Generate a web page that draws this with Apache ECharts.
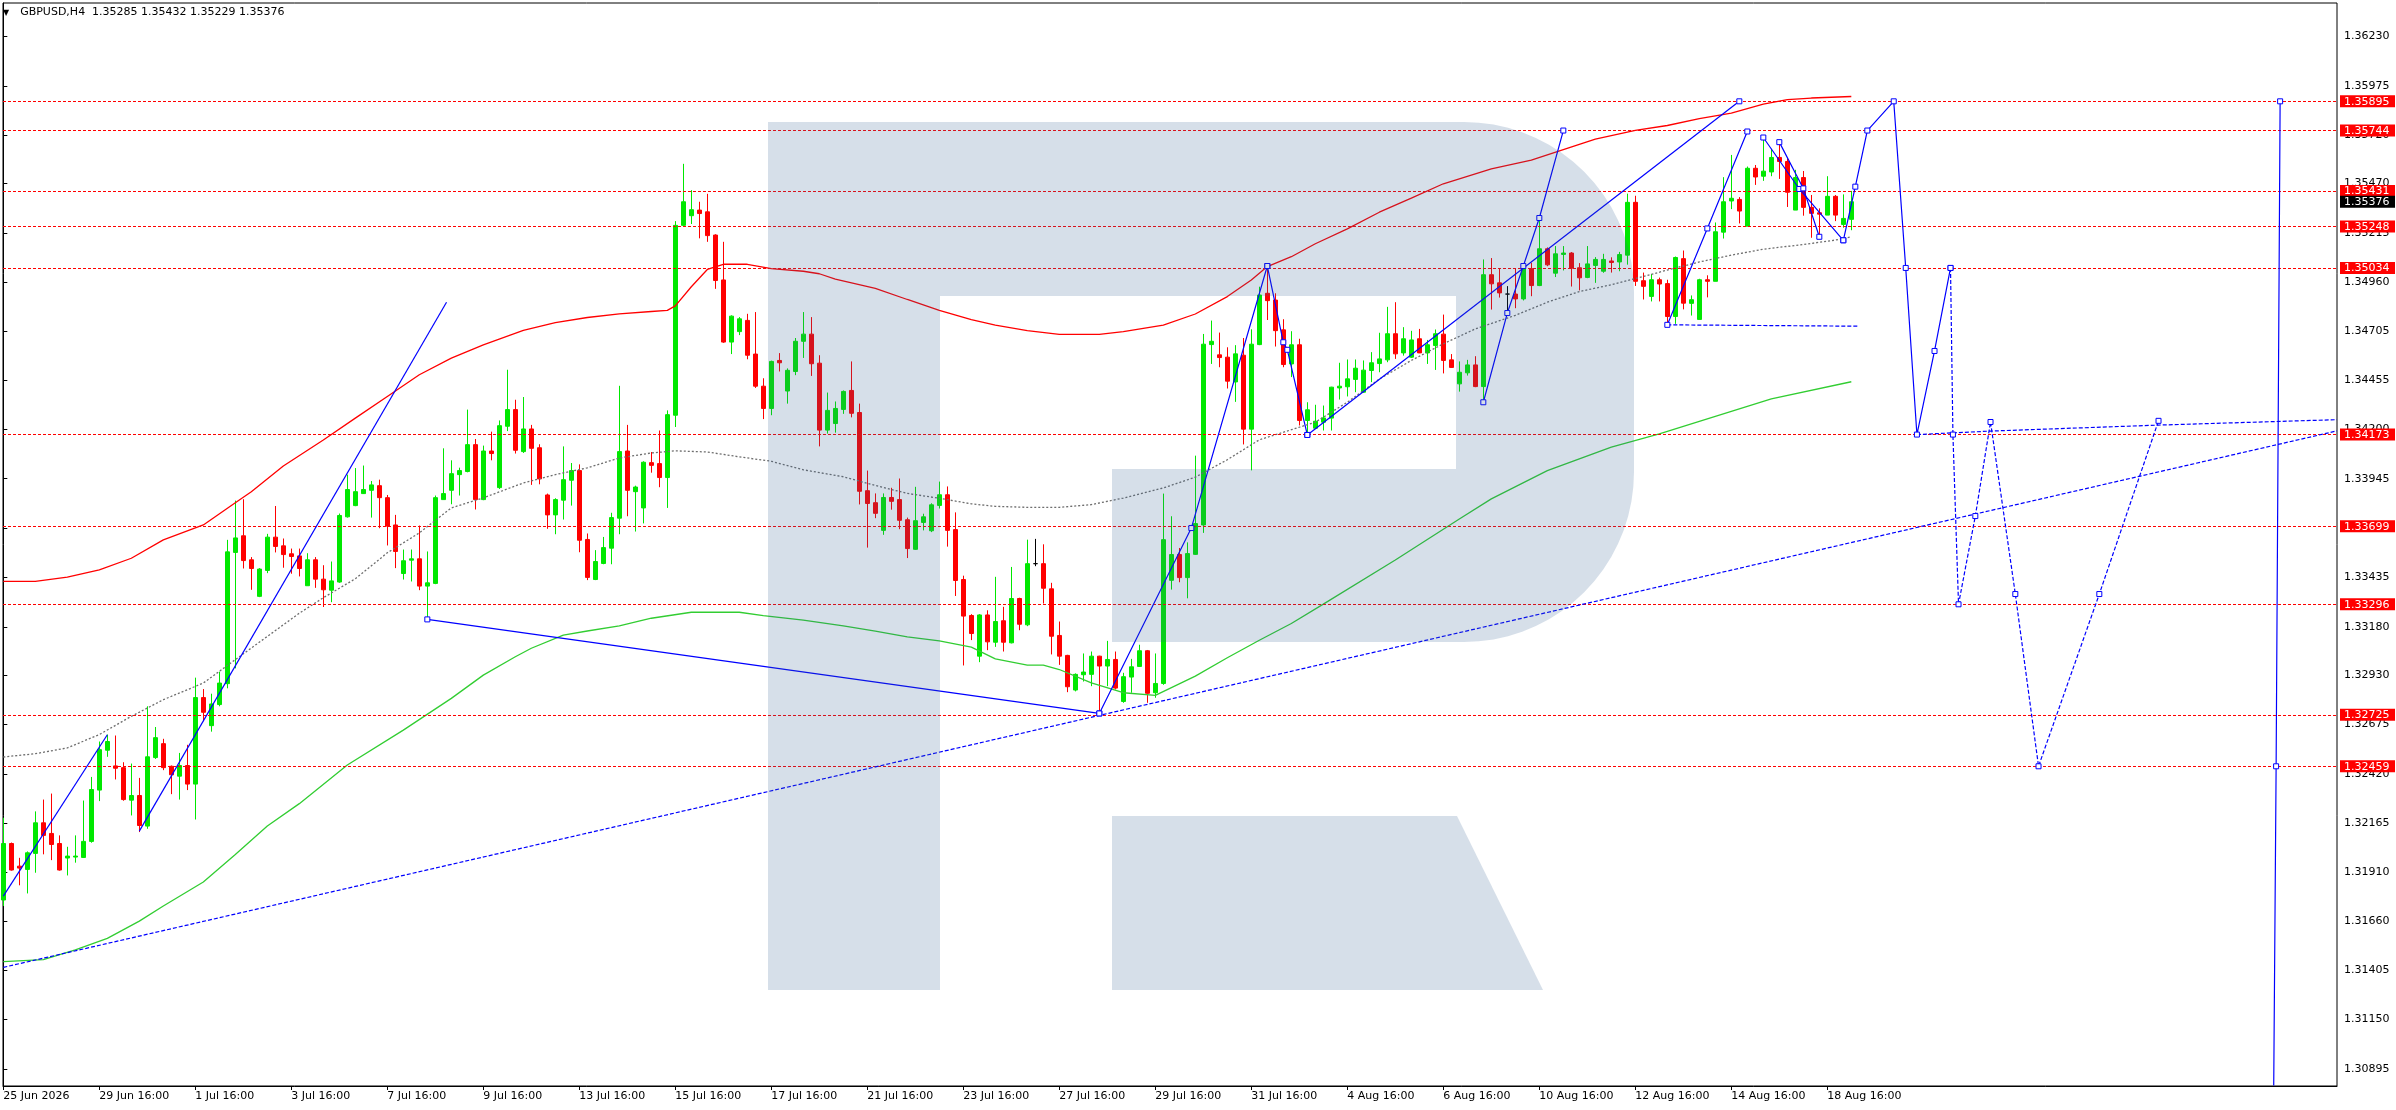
<!DOCTYPE html>
<html>
<head>
<meta charset="utf-8">
<title>GBPUSD,H4</title>
<script src="https://cdn.jsdelivr.net/npm/echarts@6/dist/echarts.min.js"></script>
<style>
  html, body { margin: 0; padding: 0; background: #fff; }
  #chart { width: 2396px; height: 1110px; }
</style>
</head>
<body>
<div id="chart"></div>
<script>
// H4 candles, bar index = position in the arrays (0 = 25 Jun 16:00)
const opens = [
  1.31768, 1.32060, 1.31943, 1.31926, 1.32009, 1.32167, 1.32112, 1.32060, 1.31985, 1.31990,
  1.31988, 1.32071, 1.32336, 1.32542, 1.32461, 1.32452, 1.32284, 1.32308, 1.32150, 1.32504,
  1.32576, 1.32459, 1.32408, 1.32463, 1.32367, 1.32814, 1.32669, 1.32778, 1.32886, 1.33564,
  1.33650, 1.33526, 1.33337, 1.33471, 1.33643, 1.33598, 1.33557, 1.33546, 1.33392, 1.33526,
  1.33426, 1.33369, 1.33411, 1.33748, 1.33806, 1.33868, 1.33885, 1.33909, 1.33847, 1.33706,
  1.33455, 1.33524, 1.33531, 1.33390, 1.33404, 1.33837, 1.33885, 1.33966, 1.33982, 1.34121,
  1.33837, 1.34088, 1.33899, 1.34216, 1.34302, 1.34085, 1.34202, 1.34105, 1.33861, 1.33758,
  1.33834, 1.33937, 1.33987, 1.33631, 1.33424, 1.33507, 1.33586, 1.33741, 1.34088, 1.33878,
  1.33794, 1.34028, 1.34023, 1.33951, 1.34273, 1.35254, 1.35304, 1.35333, 1.35324, 1.35204,
  1.34972, 1.34651, 1.34705, 1.34763, 1.34589, 1.34423, 1.34308, 1.34556, 1.34398, 1.34499,
  1.34655, 1.34692, 1.34542, 1.34196, 1.34230, 1.34303, 1.34401, 1.34287, 1.33883, 1.33821,
  1.33678, 1.33848, 1.33837, 1.33733, 1.33580, 1.33719, 1.33676, 1.33807, 1.33862, 1.33682,
  1.33424, 1.33238, 1.33028, 1.33241, 1.33100, 1.33211, 1.33097, 1.33326, 1.33190, 1.33506,
  1.33506, 1.33376, 1.33135, 1.33032, 1.32853, 1.32932, 1.32934, 1.33028, 1.32977, 1.33011,
  1.32794, 1.32920, 1.32975, 1.33056, 1.32839, 1.32887, 1.33420, 1.33553, 1.33434, 1.33554,
  1.33706, 1.34638, 1.34585, 1.34573, 1.34445, 1.34583, 1.34201, 1.34638, 1.34903, 1.34868,
  1.34714, 1.34538, 1.34637, 1.34246, 1.34206, 1.34237, 1.34258, 1.34414, 1.34420, 1.34458,
  1.34392, 1.34504, 1.34540, 1.34559, 1.34694, 1.34595, 1.34573, 1.34668, 1.34595, 1.34633,
  1.34692, 1.34559, 1.34435, 1.34492, 1.34533, 1.34421, 1.34999, 1.34957, 1.34899, 1.34899,
  1.34874, 1.35030, 1.34943, 1.35133, 1.35007, 1.35104, 1.35111, 1.35035, 1.34985, 1.35047,
  1.35017, 1.35070, 1.35065, 1.35100, 1.35373, 1.34968, 1.34887, 1.34973, 1.34953, 1.34783,
  1.35082, 1.34851, 1.34768, 1.34973, 1.34965, 1.35219, 1.35380, 1.35388, 1.35250, 1.35549,
  1.35508, 1.35530, 1.35605, 1.35584, 1.35333, 1.35501, 1.35347, 1.35319, 1.35307, 1.35404,
  1.35259, 1.35285
];
const highs = [
  1.32193, 1.32065, 1.31986, 1.32019, 1.32226, 1.32287, 1.32318, 1.32102, 1.32043, 1.32102,
  1.32282, 1.32404, 1.32587, 1.32623, 1.32618, 1.32480, 1.32473, 1.32399, 1.32769, 1.32662,
  1.32601, 1.32463, 1.32528, 1.32570, 1.32917, 1.32858, 1.32834, 1.32948, 1.33629, 1.33832,
  1.33839, 1.33540, 1.33483, 1.33660, 1.33804, 1.33636, 1.33584, 1.33584, 1.33560, 1.33540,
  1.33498, 1.33517, 1.33765, 1.33966, 1.34000, 1.34013, 1.33933, 1.33940, 1.33861, 1.33758,
  1.33579, 1.33579, 1.33703, 1.33569, 1.33858, 1.34102, 1.34040, 1.34002, 1.34302, 1.34150,
  1.34116, 1.34188, 1.34246, 1.34508, 1.34353, 1.34367, 1.34223, 1.34123, 1.33868, 1.33844,
  1.34112, 1.34026, 1.34019, 1.33662, 1.33576, 1.33644, 1.33769, 1.34425, 1.34223, 1.33909,
  1.34035, 1.34083, 1.34194, 1.34298, 1.35276, 1.35572, 1.35436, 1.35376, 1.35417, 1.35208,
  1.35169, 1.34789, 1.34780, 1.34797, 1.34806, 1.34464, 1.34555, 1.34594, 1.34515, 1.34672,
  1.34806, 1.34780, 1.34583, 1.34390, 1.34344, 1.34401, 1.34551, 1.34333, 1.33987, 1.33869,
  1.33869, 1.33898, 1.33946, 1.33744, 1.33903, 1.33764, 1.33818, 1.33930, 1.33905, 1.33771,
  1.33444, 1.33245, 1.33245, 1.33265, 1.33438, 1.33283, 1.33489, 1.33330, 1.33630, 1.33634,
  1.33606, 1.33407, 1.33207, 1.33035, 1.32939, 1.33042, 1.33052, 1.33030, 1.33107, 1.33052,
  1.32942, 1.33014, 1.33087, 1.33060, 1.33042, 1.33868, 1.33751, 1.33587, 1.33616, 1.34064,
  1.34693, 1.34762, 1.34700, 1.34624, 1.34635, 1.34672, 1.34717, 1.34937, 1.35041, 1.34903,
  1.34769, 1.34707, 1.34668, 1.34340, 1.34327, 1.34323, 1.34420, 1.34544, 1.34561, 1.34561,
  1.34556, 1.34599, 1.34699, 1.34833, 1.34857, 1.34728, 1.34709, 1.34719, 1.34662, 1.34716,
  1.34793, 1.34589, 1.34551, 1.34559, 1.34578, 1.35078, 1.35085, 1.35033, 1.34940, 1.35030,
  1.35055, 1.35061, 1.35297, 1.35140, 1.35147, 1.35147, 1.35116, 1.35059, 1.35147, 1.35090,
  1.35107, 1.35089, 1.35117, 1.35418, 1.35407, 1.35010, 1.35003, 1.34984, 1.34973, 1.35093,
  1.35124, 1.34892, 1.34978, 1.34996, 1.35269, 1.35503, 1.35618, 1.35400, 1.35558, 1.35566,
  1.35708, 1.35649, 1.35674, 1.35601, 1.35541, 1.35535, 1.35411, 1.35342, 1.35508, 1.35411,
  1.35414, 1.35432
];
const lows = [
  1.31737, 1.31920, 1.31844, 1.31802, 1.31909, 1.32004, 1.31974, 1.31920, 1.31895, 1.31961,
  1.31985, 1.32064, 1.32279, 1.32508, 1.32391, 1.32281, 1.32205, 1.32119, 1.32136, 1.32497,
  1.32439, 1.32315, 1.32287, 1.32336, 1.32184, 1.32692, 1.32638, 1.32769, 1.32862, 1.32965,
  1.33481, 1.33371, 1.33333, 1.33457, 1.33564, 1.33485, 1.33454, 1.33440, 1.33392, 1.33381,
  1.33282, 1.33307, 1.33407, 1.33744, 1.33803, 1.33866, 1.33744, 1.33689, 1.33600, 1.33483,
  1.33424, 1.33414, 1.33369, 1.33218, 1.33400, 1.33837, 1.33813, 1.33858, 1.33978, 1.33786,
  1.33834, 1.34040, 1.33892, 1.34191, 1.34075, 1.34078, 1.33913, 1.33916, 1.33686, 1.33658,
  1.33734, 1.33806, 1.33565, 1.33421, 1.33421, 1.33503, 1.33503, 1.33658, 1.33751, 1.33672,
  1.33714, 1.33976, 1.33901, 1.33794, 1.34212, 1.35251, 1.35261, 1.35187, 1.35169, 1.34926,
  1.34647, 1.34589, 1.34687, 1.34562, 1.34414, 1.34253, 1.34273, 1.34499, 1.34333, 1.34480,
  1.34569, 1.34476, 1.34112, 1.34178, 1.34183, 1.34280, 1.34262, 1.33812, 1.33589, 1.33741,
  1.33655, 1.33785, 1.33684, 1.33535, 1.33577, 1.33678, 1.33669, 1.33791, 1.33594, 1.33339,
  1.32980, 1.33111, 1.32997, 1.33059, 1.33076, 1.33052, 1.33094, 1.33162, 1.33183, 1.33493,
  1.33300, 1.33037, 1.32983, 1.32842, 1.32846, 1.32897, 1.32873, 1.32732, 1.32873, 1.32856,
  1.32787, 1.32839, 1.32973, 1.32787, 1.32813, 1.32880, 1.33372, 1.33410, 1.33327, 1.33551,
  1.33665, 1.34538, 1.34521, 1.34411, 1.34342, 1.34122, 1.33988, 1.34635, 1.34765, 1.34628,
  1.34521, 1.34470, 1.34220, 1.34171, 1.34202, 1.34194, 1.34194, 1.34354, 1.34370, 1.34392,
  1.34389, 1.34444, 1.34495, 1.34547, 1.34564, 1.34581, 1.34569, 1.34594, 1.34538, 1.34507,
  1.34489, 1.34518, 1.34395, 1.34478, 1.34418, 1.34340, 1.34819, 1.34881, 1.34802, 1.34826,
  1.34866, 1.34888, 1.34940, 1.35043, 1.34987, 1.35021, 1.34938, 1.34918, 1.34981, 1.34957,
  1.35009, 1.35010, 1.35017, 1.35051, 1.34941, 1.34871, 1.34861, 1.34861, 1.34740, 1.34745,
  1.34820, 1.34788, 1.34768, 1.34882, 1.34965, 1.35186, 1.35338, 1.35264, 1.35250, 1.35463,
  1.35484, 1.35508, 1.35494, 1.35349, 1.35333, 1.35304, 1.35190, 1.35195, 1.35307, 1.35276,
  1.35242, 1.35229
];
const closes = [
  1.32060, 1.31923, 1.31933, 1.32012, 1.32167, 1.32102, 1.32055, 1.31923, 1.31995, 1.31995,
  1.32071, 1.32339, 1.32545, 1.32587, 1.32449, 1.32287, 1.32308, 1.32153, 1.32508, 1.32607,
  1.32452, 1.32415, 1.32463, 1.32367, 1.32814, 1.32738, 1.32781, 1.32889, 1.33567, 1.33639,
  1.33522, 1.33481, 1.33478, 1.33643, 1.33595, 1.33553, 1.33543, 1.33481, 1.33526, 1.33426,
  1.33371, 1.33417, 1.33755, 1.33889, 1.33878, 1.33889, 1.33913, 1.33847, 1.33700, 1.33569,
  1.33521, 1.33531, 1.33390, 1.33407, 1.33847, 1.33868, 1.33971, 1.33987, 1.34121, 1.33837,
  1.34088, 1.34075, 1.34219, 1.34302, 1.34092, 1.34202, 1.34102, 1.33944, 1.33758, 1.33837,
  1.33940, 1.33987, 1.33627, 1.33435, 1.33517, 1.33589, 1.33744, 1.34085, 1.33885, 1.33902,
  1.34030, 1.34014, 1.33951, 1.34276, 1.35254, 1.35376, 1.35335, 1.35315, 1.35201, 1.34969,
  1.34651, 1.34785, 1.34771, 1.34583, 1.34423, 1.34308, 1.34551, 1.34544, 1.34505, 1.34655,
  1.34692, 1.34539, 1.34196, 1.34298, 1.34308, 1.34396, 1.34283, 1.33880, 1.33817, 1.33766,
  1.33848, 1.33828, 1.33730, 1.33584, 1.33728, 1.33748, 1.33810, 1.33862, 1.33678, 1.33419,
  1.33235, 1.33145, 1.33241, 1.33102, 1.33207, 1.33100, 1.33326, 1.33193, 1.33506, 1.33506,
  1.33379, 1.33131, 1.33028, 1.32870, 1.32934, 1.32946, 1.33028, 1.32977, 1.33011, 1.32863,
  1.32922, 1.32973, 1.33056, 1.32836, 1.32887, 1.33630, 1.33553, 1.33434, 1.33558, 1.33713,
  1.34640, 1.34655, 1.34571, 1.34449, 1.34590, 1.34201, 1.34640, 1.34894, 1.34865, 1.34710,
  1.34535, 1.34637, 1.34246, 1.34301, 1.34242, 1.34259, 1.34418, 1.34423, 1.34461, 1.34516,
  1.34506, 1.34544, 1.34564, 1.34694, 1.34590, 1.34668, 1.34662, 1.34595, 1.34637, 1.34694,
  1.34556, 1.34520, 1.34495, 1.34533, 1.34421, 1.34999, 1.34952, 1.34905, 1.34899, 1.34874,
  1.35030, 1.34943, 1.35133, 1.35050, 1.35107, 1.35111, 1.35033, 1.34983, 1.35055, 1.35078,
  1.35078, 1.35062, 1.35103, 1.35373, 1.34965, 1.34939, 1.34973, 1.34951, 1.34783, 1.35088,
  1.34852, 1.34870, 1.34973, 1.34965, 1.35221, 1.35376, 1.35394, 1.35328, 1.35549, 1.35504,
  1.35534, 1.35605, 1.35584, 1.35425, 1.35501, 1.35347, 1.35316, 1.35312, 1.35404, 1.35307,
  1.35290, 1.35376
];

// indicator lines, read at sampled bars: [bar, price]
const upperBand = [
  [0, 1.33414], [4, 1.33414], [8, 1.33436], [12, 1.33474], [16, 1.33534], [20, 1.33629],
  [25, 1.33706], [29, 1.33821], [31, 1.33878], [35, 1.34011], [40, 1.34145], [44, 1.34258],
  [48, 1.34370], [52, 1.34482], [56, 1.34568], [60, 1.34637], [65, 1.34711], [69, 1.34752],
  [73, 1.34778], [77, 1.34797], [81, 1.34809], [83, 1.34815], [84, 1.34838], [86, 1.34937],
  [88, 1.35026], [90, 1.35053], [93, 1.35053], [96, 1.35031], [100, 1.35017], [102, 1.35004],
  [104, 1.34976], [109, 1.34928], [113, 1.34871], [117, 1.34815], [121, 1.34767], [124, 1.34739],
  [128, 1.34710], [132, 1.34691], [137, 1.34691], [140, 1.34705], [145, 1.34739], [149, 1.34796],
  [153, 1.34886], [156, 1.34972], [158, 1.35041], [161, 1.35092], [164, 1.35159], [168, 1.35236],
  [172, 1.35322], [176, 1.35395], [180, 1.35469], [186, 1.35546], [191, 1.35591], [199, 1.35700],
  [204, 1.35745], [208, 1.35770], [212, 1.35806], [216, 1.35834], [220, 1.35881], [223, 1.35904],
  [226, 1.35912], [231, 1.35920]
];
const middleBand = [
  [0, 1.32507], [4, 1.32524], [8, 1.32554], [12, 1.32623], [16, 1.32717], [20, 1.32803],
  [25, 1.32889], [29, 1.33010], [33, 1.33130], [37, 1.33250], [40, 1.33330], [44, 1.33428],
  [48, 1.33562], [52, 1.33665], [56, 1.33794], [60, 1.33846], [65, 1.33923], [69, 1.33966],
  [73, 1.34001], [77, 1.34052], [81, 1.34078], [84, 1.34089], [88, 1.34083], [92, 1.34058],
  [96, 1.34035], [100, 1.33991], [105, 1.33955], [109, 1.33910], [113, 1.33869], [117, 1.33844],
  [121, 1.33815], [124, 1.33802], [128, 1.33797], [132, 1.33797], [136, 1.33811], [140, 1.33845],
  [145, 1.33897], [149, 1.33953], [153, 1.34043], [157, 1.34146], [161, 1.34198], [164, 1.34237],
  [168, 1.34340], [172, 1.34460], [176, 1.34556], [180, 1.34642], [184, 1.34719], [189, 1.34789],
  [193, 1.34857], [197, 1.34912], [201, 1.34947], [204, 1.34979], [208, 1.35023], [212, 1.35065],
  [216, 1.35100], [220, 1.35131], [225, 1.35155], [229, 1.35178], [231, 1.35195]
];
const lowerBand = [
  [0, 1.31450], [5, 1.31460], [9, 1.31510], [13, 1.31570], [17, 1.31659], [20, 1.31737],
  [25, 1.31861], [29, 1.32003], [33, 1.32150], [37, 1.32266], [43, 1.32466], [50, 1.32646],
  [56, 1.32810], [60, 1.32930], [64, 1.33025], [66, 1.33069], [70, 1.33137], [73, 1.33158],
  [77, 1.33184], [81, 1.33224], [86, 1.33255], [92, 1.33255], [95, 1.33237], [100, 1.33214],
  [105, 1.33184], [109, 1.33157], [113, 1.33128], [117, 1.33107], [121, 1.33075], [124, 1.33014],
  [128, 1.32982], [130, 1.32982], [132, 1.32959], [136, 1.32890], [140, 1.32839], [144, 1.32825],
  [149, 1.32925], [153, 1.33020], [157, 1.33110], [161, 1.33197], [165, 1.33297], [174, 1.33525],
  [182, 1.33737], [186, 1.33841], [193, 1.33987], [201, 1.34108], [207, 1.34176], [221, 1.34357],
  [231, 1.34446]
];

// trend lines and wave paths (blue), [bar, price]
const trendPlain1 = [[0, 1.31788], [13, 1.32622]];
const trendPlain2 = [[17, 1.32124], [55.4, 1.34857]];
const waveB = [[53, 1.33218], [137, 1.32732]];
const waveC = [[137, 1.32732], [148.5, 1.33690], [158, 1.35044]];
const waveC2 = [[158, 1.35044], [160, 1.34650], [160.5, 1.34611], [163, 1.34171]];
const waveD = [[163, 1.34171], [217, 1.35895]];
const waveS = [[185, 1.34340], [188, 1.34801], [190, 1.35044], [192, 1.35292], [195, 1.35744]];
const waveE = [[208, 1.34740], [213, 1.35238], [218, 1.35739]];
const waveF1 = [[220, 1.35708], [224.5, 1.35442], [230, 1.35177]];
const waveF2 = [[222, 1.35684], [225, 1.35445], [227, 1.35195]];
const forecastSolid = [
  [230, 1.35177], [231.5, 1.35454], [233, 1.35744], [236.3, 1.35895], [237.8, 1.35034],
  [239.2, 1.34173], [241.4, 1.34605], [243.4, 1.35034]
];
const forecastDashed = [
  [243.4, 1.35034], [243.7, 1.34173], [244.4, 1.33296], [246.5, 1.33752], [248.4, 1.34238],
  [251.5, 1.33349], [254.4, 1.32459], [262, 1.33349], [269.4, 1.34244]
];
const flatDashed = [[239.2, 1.34173], [248.4, 1.34191], [269.4, 1.34222], [291.7, 1.34250]];
const longDashed = [[0, 1.31420], [291.7, 1.34192]];
const shortDashed = [[208, 1.34740], [232, 1.34733]];
const verticalLine = [[284.6, 1.35895], [284.1, 1.32459], [283.8, 1.30810]];

// horizontal levels and price axis
const levels = [1.35895, 1.35744, 1.35431, 1.35248, 1.35034, 1.34173, 1.33699, 1.33296, 1.32725, 1.32459];
const lastPrice = 1.35376;
const yTicks = [
  1.36230, 1.35975, 1.35720, 1.35470, 1.35215, 1.34960, 1.34705, 1.34455, 1.34200, 1.33945, 1.33690,
  1.33435, 1.33180, 1.32930, 1.32675, 1.32420, 1.32165, 1.31910, 1.31660, 1.31405, 1.31150, 1.30895
];
const xTickBars = [0, 12, 24, 36, 48, 60, 72, 84, 96, 108, 120, 132, 144, 156, 168, 180, 192, 204, 216, 228];
const xTickLabels = [
  '25 Jun 2026', '29 Jun 16:00', '1 Jul 16:00', '3 Jul 16:00', '7 Jul 16:00', '9 Jul 16:00',
  '13 Jul 16:00', '15 Jul 16:00', '17 Jul 16:00', '21 Jul 16:00', '23 Jul 16:00', '27 Jul 16:00',
  '29 Jul 16:00', '31 Jul 16:00', '4 Aug 16:00', '6 Aug 16:00', '10 Aug 16:00', '12 Aug 16:00',
  '14 Aug 16:00', '18 Aug 16:00'
];

const FONT = 'DejaVu Sans';
const BLUE = '#0000ff';

// watermark "R" drawn over the plot, in pixels
function watermarkBowl() {
  const pts = [[768, 122], [1464, 122]];
  for (let a = -90; a <= 0; a += 5) {
    const r = a * Math.PI / 180;
    pts.push([1464 + 170 * Math.cos(r), 292 + 170 * Math.sin(r)]);
  }
  for (let a = 0; a <= 90; a += 5) {
    const r = a * Math.PI / 180;
    pts.push([1464 + 170 * Math.cos(r), 472 + 170 * Math.sin(r)]);
  }
  pts.push([1112, 642], [1112, 469], [1456, 469], [1456, 296], [940, 296], [940, 990], [768, 990]);
  return pts;
}

function blueLine(points, opts) {
  opts = opts || {};
  return {
    type: 'line',
    data: points,
    showSymbol: !!opts.markers,
    symbol: 'rect',
    symbolSize: 5,
    itemStyle: { color: '#fff', borderColor: BLUE, borderWidth: 1 },
    lineStyle: { color: BLUE, width: 1.2, type: opts.dashed ? [4, 2] : 'solid' },
    z: 5,
    silent: true,
    animation: false
  };
}

function bandLine(points, color, type) {
  return {
    type: 'line',
    data: points,
    showSymbol: false,
    lineStyle: { color: color, width: 1.3, type: type || 'solid' },
    z: 3,
    silent: true,
    animation: false
  };
}

const chart = echarts.init(document.getElementById('chart'));

const candleData = opens.map((o, i) => [i, o, closes[i], lows[i], highs[i]]);
const vertData = verticalLine.map((p, i) => i === verticalLine.length - 1 ? { value: p, symbol: 'none' } : p);

const yMin = 1.30807;
const yMax = 1.36403;

// the red horizontal levels ride on the upper band series as markLines
const upperSeries = bandLine(upperBand, '#ff0000');
upperSeries.markLine = {
  silent: true,
  animation: false,
  precision: 5,
  symbol: ['none', 'none'],
  label: { show: false },
  lineStyle: { color: '#ff0000', width: 1.2, type: [3, 2] },
  data: levels.map(v => ({ yAxis: v }))
};

const option = {
  animation: false,
  backgroundColor: '#fff',
  title: {
    text: '{tri|▼}GBPUSD,H4  1.35285 1.35432 1.35229 1.35376',
    left: 3,
    top: 7,
    padding: 0,
    textStyle: {
      fontSize: 11, fontWeight: 'normal', fontFamily: FONT, color: '#000',
      rich: { tri: { fontSize: 8, fontFamily: FONT, color: '#000', padding: [0, 11, 0, 0] } }
    }
  },
  grid: {
    left: 3, right: 59, top: 3, bottom: 24,
    show: true, borderColor: '#000', borderWidth: 1, backgroundColor: 'transparent',
    outerBoundsMode: 'none'
  },
  xAxis: {
    type: 'value',
    min: -0.04,
    max: 291.71,
    splitLine: { show: false },
    axisLine: { show: true, lineStyle: { color: '#000', width: 1 } },
    axisTick: { show: true, length: 4, customValues: xTickBars, lineStyle: { color: '#000' } },
    axisLabel: {
      customValues: xTickBars,
      formatter: v => xTickLabels[xTickBars.indexOf(Math.round(v))] || '',
      align: 'left',
      margin: 5,
      color: '#000',
      fontSize: 11,
      fontFamily: FONT
    }
  },
  yAxis: [
    {
      type: 'value',
      position: 'right',
      min: yMin,
      max: yMax,
      scale: true,
      splitLine: { show: false },
      axisLine: { show: true, lineStyle: { color: '#000', width: 1 } },
      axisTick: { show: true, length: 4, customValues: yTicks, lineStyle: { color: '#000' } },
      axisLabel: {
        customValues: yTicks,
        formatter: v => v.toFixed(5),
        margin: 7,
        color: '#000',
        fontSize: 11,
        fontFamily: FONT
      }
    },
    {
      type: 'value',
      position: 'right',
      min: yMin,
      max: yMax,
      scale: true,
      splitLine: { show: false },
      axisLine: { show: false },
      axisTick: { show: false },
      axisLabel: {
        customValues: levels.concat([lastPrice]),
        formatter: v => (Math.abs(v - lastPrice) < 1e-7 ? '{cur|' : '{lvl|') + v.toFixed(5) + '}',
        margin: 3,
        rich: {
          lvl: {
            backgroundColor: '#ff0000', color: '#fff', fontSize: 11, fontFamily: FONT,
            width: 47, height: 11, lineHeight: 11, padding: [1, 4, 0, 4]
          },
          cur: {
            backgroundColor: '#000', color: '#fff', fontSize: 11, fontFamily: FONT,
            width: 47, height: 11, lineHeight: 11, padding: [1, 4, 0, 4]
          }
        }
      }
    }
  ],
  graphic: [
    {
      type: 'polygon', z: 100, silent: true,
      shape: { points: watermarkBowl() },
      style: { fill: 'rgba(50, 95, 145, 0.2)' }
    },
    {
      type: 'polygon', z: 100, silent: true,
      shape: { points: [[1112, 816], [1457, 816], [1543, 990], [1112, 990]] },
      style: { fill: 'rgba(50, 95, 145, 0.2)' }
    }
  ],
  series: [
    {
      type: 'candlestick',
      data: candleData,
      barWidth: 4,
      silent: true,
      z: 2,
      itemStyle: {
        color: '#00e800', borderColor: '#00e800',
        color0: '#ff0000', borderColor0: '#ff0000',
        borderColorDoji: '#000', borderWidth: 1
      }
    },
    upperSeries,
    bandLine(middleBand, '#6e6e6e', [2, 2]),
    bandLine(lowerBand, '#32cd32'),
    blueLine(trendPlain1),
    blueLine(trendPlain2),
    blueLine(waveB, { markers: true }),
    blueLine(waveC, { markers: true }),
    blueLine(waveC2, { markers: true }),
    blueLine(waveD, { markers: true }),
    blueLine(waveS, { markers: true }),
    blueLine(waveE, { markers: true }),
    blueLine(waveF1, { markers: true }),
    blueLine(waveF2, { markers: true }),
    blueLine(forecastSolid, { markers: true }),
    blueLine(forecastDashed, { markers: true, dashed: true }),
    blueLine(flatDashed, { dashed: true }),
    blueLine(longDashed, { dashed: true }),
    blueLine(shortDashed, { dashed: true }),
    blueLine(vertData, { markers: true })
  ]
};

chart.setOption(option);
</script>
</body>
</html>
